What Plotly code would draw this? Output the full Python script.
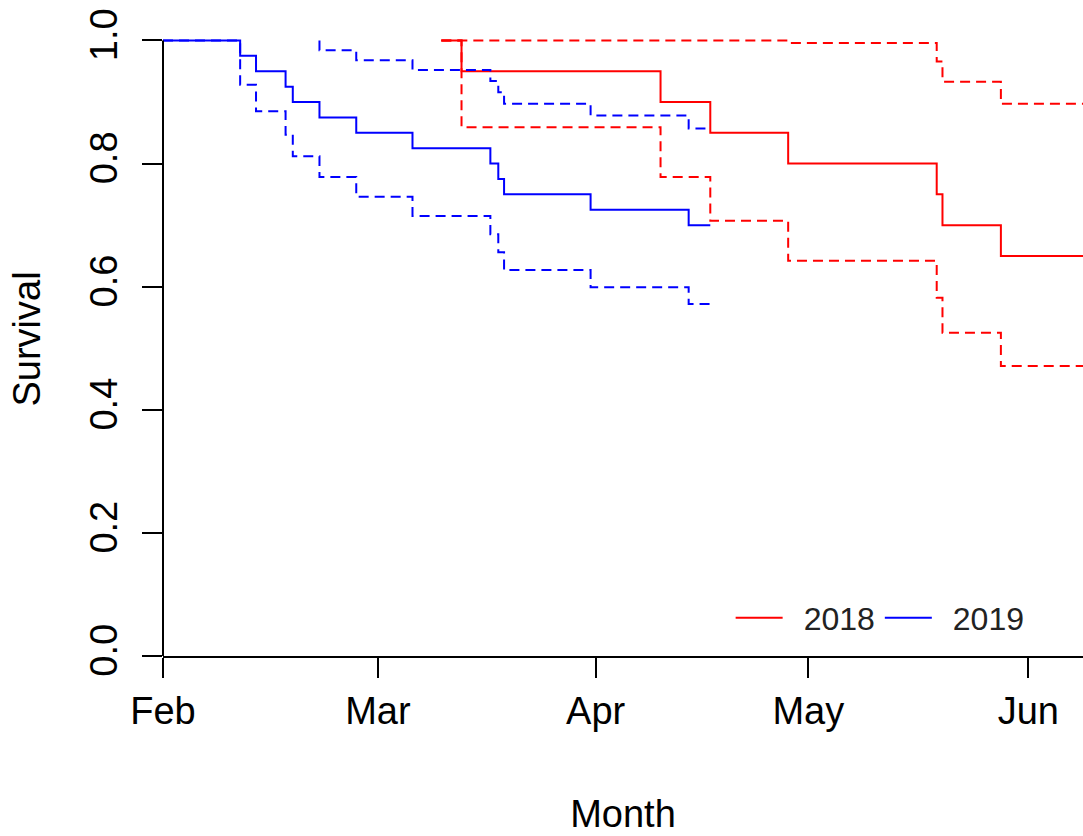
import plotly.graph_objects as go

# ---- axis labels ----
month_labels = ["Feb", "Mar", "Apr", "May", "Jun"]
month_ticks = [0, 29.8, 60.0, 89.5, 120.0]          # days since Feb 1
y_ticks = [0.0, 0.2, 0.4, 0.6, 0.8, 1.0]
y_tick_labels = ["0.0", "0.2", "0.4", "0.6", "0.8", "1.0"]

# ---- 2018 (red) Kaplan-Meier estimate and 95% CI ----
t2018 = [38.6, 41.4, 69.0, 75.9, 86.7, 107.3, 108.1, 116.2]
s2018 = [1.0, 0.95, 0.90, 0.85, 0.80, 0.75, 0.70, 0.65]
lo2018 = [1.0, 0.859, 0.778, 0.707, 0.642, 0.582, 0.525, 0.471]
up2018 = [1.0, 1.0, 1.0, 1.0, 0.996, 0.966, 0.933, 0.897]
end2018 = 130.0

# ---- 2019 (blue) Kaplan-Meier estimate and 95% CI ----
t2019 = [0.0, 10.7, 12.9, 17.0, 18.0, 21.7, 26.8, 34.6, 45.4, 46.5, 47.3, 59.3, 72.9]
s2019 = [1.0, 0.975, 0.95, 0.925, 0.90, 0.875, 0.85, 0.825, 0.80, 0.775, 0.75, 0.725, 0.70]
lo2019 = [1.0, 0.928, 0.885, 0.847, 0.812, 0.778, 0.746, 0.715, 0.685, 0.656, 0.627, 0.599, 0.572]
t2019_up = [21.7, 21.7, 26.8, 34.6, 45.4, 46.5, 47.3, 59.3, 72.9]
up2019 = [1.0, 0.984, 0.968, 0.952, 0.934, 0.916, 0.897, 0.878, 0.857]
end2019 = 75.9

RED = "#FF0000"
BLUE = "#0000FF"
FONT = "Liberation Sans, Arial, sans-serif"


def steps(times, vals, end):
    return list(times) + [end], list(vals) + [vals[-1]]


fig = go.Figure()


def add_curve(times, vals, end, color, dash, name=None, legend=False):
    x, y = steps(times, vals, end)
    fig.add_trace(go.Scatter(
        x=x, y=y, mode="lines", line_shape="hv",
        line=dict(color=color, width=2, dash=dash),
        name=name, showlegend=legend, hoverinfo="skip",
    ))


DASH = "10px,6px"
add_curve(t2018, lo2018, end2018, RED, DASH)
add_curve(t2018, up2018, end2018, RED, DASH)
add_curve(t2018, s2018, end2018, RED, "solid", "\u20022018", True)
add_curve(t2019, lo2019, end2019, BLUE, DASH)
add_curve(t2019_up, up2019, end2019, BLUE, DASH)
add_curve(t2019, s2019, end2019, BLUE, "solid", "\u20022019", True)

W, H = 1083, 836
plot_left, plot_right = 163.3, 1083
y0_px, y1_px = 655.7, 40.3
ymax = 1.03
top_px = y1_px - (ymax - 1.0) * (y0_px - y1_px)
px_per_day = (1028.3 - 163.3) / 120.0

fig.update_layout(
    width=W, height=H,
    margin=dict(l=plot_left, r=W - plot_right, t=top_px, b=H - y0_px, pad=0),
    paper_bgcolor="white", plot_bgcolor="white",
    font=dict(family=FONT, color="black", size=38),
    showlegend=True,
    legend=dict(
        orientation="h", x=0.617, y=0.06, xanchor="left", yanchor="middle",
        font=dict(size=32, family=FONT, color="#222222"),
        bgcolor="rgba(0,0,0,0)", itemwidth=47, tracegroupgap=0,
    ),
    xaxis=dict(
        range=[0, (plot_right - plot_left) / px_per_day],
        tickmode="array", tickvals=month_ticks, ticktext=month_labels,
        ticks="outside", ticklen=20, tickwidth=2, tickcolor="black",
        showline=True, linecolor="black", linewidth=2,
        showgrid=False, zeroline=False,
        tickfont=dict(size=38, family=FONT, color="black"),
        title=dict(text="Month", font=dict(size=38, family=FONT, color="black"), standoff=70),
        automargin=False,
    ),
    yaxis=dict(
        range=[0, ymax],
        tickmode="array", tickvals=y_ticks, ticktext=y_tick_labels,
        tickangle=-90, ticklabelstandoff=10,
        ticks="outside", ticklen=20, tickwidth=2, tickcolor="black",
        showline=False, showgrid=False, zeroline=False,
        tickfont=dict(size=38, family=FONT, color="black"),
        title=dict(text="Survival", font=dict(size=38, family=FONT, color="black"), standoff=30),
        automargin=False,
    ),
    shapes=[dict(type="line", xref="paper", yref="y", x0=0, x1=0, y0=0, y1=1,
                 line=dict(color="black", width=2), layer="above")],
)

fig.write_html(
    "out.html",
    config={"displayModeBar": False},
    post_script="document.body.style.margin='0';document.body.style.overflow='hidden';",
)
